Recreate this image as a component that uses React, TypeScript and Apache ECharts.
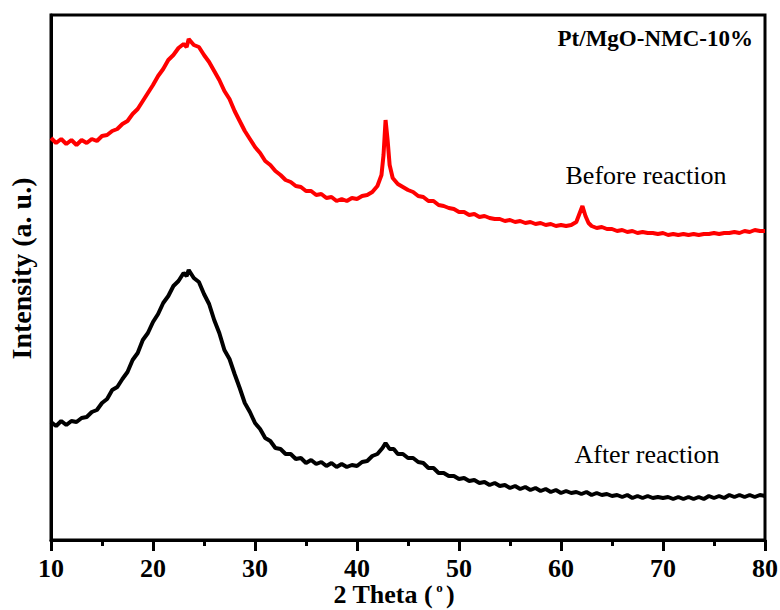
import { useEffect, useRef } from "react";
import * as echarts from "echarts";

// 2θ (degrees) vs intensity (a.u.)
const beforeReaction: [number, number][] = [
  [10, 402], [10.5, 397], [11, 401], [11.5, 396], [12, 400], [12.5, 395], [13, 400], [13.5, 397],
  [14, 401], [14.5, 399], [15, 404], [15.5, 405], [16, 409], [16.5, 411], [17, 416], [17.5, 419],
  [18, 426], [18.5, 431], [19, 439], [19.5, 447], [20, 455], [20.5, 464], [21, 471], [21.5, 480],
  [22, 485], [22.5, 492], [23, 496], [23.3, 493], [23.5, 501], [24, 495], [24.5, 493], [25, 485],
  [25.5, 478], [26, 469], [26.5, 460], [27, 449], [27.5, 441], [28, 429], [28.5, 419], [29, 409],
  [29.5, 401], [30, 393], [30.5, 387], [31, 379], [31.5, 375], [32, 369], [32.5, 365], [33, 360],
  [33.5, 358], [34, 354], [34.5, 353], [35, 349], [35.5, 349], [36, 345], [36.5, 346], [37, 342],
  [37.5, 343], [38, 339], [38.5, 341], [39, 339], [39.5, 342], [40, 341], [40.5, 344], [41, 345],
  [41.5, 348], [42, 354], [42.4, 365], [42.6, 385], [42.8, 420], [43, 400], [43.2, 375], [43.5, 362],
  [44, 356], [44.5, 353], [45, 350], [45.5, 348], [46, 344], [46.5, 343], [47, 339], [47.5, 339],
  [48, 335], [48.5, 334], [49, 332], [49.5, 331], [50, 328], [50.5, 328], [51, 325], [51.5, 326],
  [52, 323], [52.5, 324], [53, 322], [53.5, 321], [54, 321], [54.5, 319], [55, 320], [55.5, 318],
  [56, 319], [56.5, 317], [57, 318], [57.5, 316], [58, 317], [58.5, 315], [59, 316], [59.5, 314],
  [60, 315], [60.5, 314], [61, 315], [61.5, 318], [61.8, 326], [62.1, 334], [62.4, 324], [62.7, 317],
  [63, 314], [63.5, 312], [64, 313], [64.5, 311], [65, 311], [65.5, 309], [66, 310], [66.5, 308],
  [67, 309], [67.5, 307], [68, 308], [68.5, 307], [69, 307], [69.5, 306], [70, 307], [70.5, 305],
  [71, 306], [71.5, 305], [72, 306], [72.5, 305], [73, 306], [73.5, 305], [74, 306], [74.5, 306],
  [75, 307], [75.5, 306], [76, 307], [76.5, 307], [77, 308], [77.5, 307], [78, 309], [78.5, 308],
  [79, 310], [79.5, 309], [80, 309],
];

const afterReaction: [number, number][] = [
  [10, 118], [10.5, 114], [11, 119], [11.5, 115], [12, 119], [12.5, 118], [13, 122], [13.5, 123],
  [14, 128], [14.5, 130], [15, 137], [15.5, 141], [16, 150], [16.5, 153], [17, 161], [17.5, 168],
  [18, 180], [18.5, 187], [19, 200], [19.5, 207], [20, 218], [20.5, 226], [21, 237], [21.5, 244],
  [22, 254], [22.5, 259], [23, 267], [23.3, 264], [23.5, 270], [24, 262], [24.5, 258], [25, 246],
  [25.5, 236], [26, 220], [26.5, 207], [27, 190], [27.5, 181], [28, 166], [28.5, 152], [29, 137],
  [29.5, 128], [30, 117], [30.5, 111], [31, 102], [31.5, 99], [32, 92], [32.5, 91], [33, 86],
  [33.5, 86], [34, 81], [34.5, 82], [35, 77], [35.5, 80], [36, 76], [36.5, 78], [37, 74],
  [37.5, 77], [38, 73], [38.5, 76], [39, 73], [39.5, 75], [40, 74], [40.5, 78], [41, 79],
  [41.5, 84], [42, 86], [42.5, 92], [42.8, 97], [43.2, 91], [43.6, 91], [44, 86], [44.5, 86],
  [45, 82], [45.5, 82], [46, 78], [46.5, 77], [47, 72], [47.5, 72], [48, 67], [48.5, 67],
  [49, 64], [49.5, 64], [50, 61], [50.5, 62], [51, 59], [51.5, 60], [52, 57], [52.5, 58],
  [53, 55], [53.5, 57], [54, 54], [54.5, 55], [55, 52], [55.5, 54], [56, 51], [56.5, 53],
  [57, 50], [57.5, 52], [58, 49], [58.5, 51], [59, 48], [59.5, 50], [60, 47], [60.5, 49],
  [61, 47], [61.5, 48], [62, 46], [62.5, 48], [63, 45], [63.5, 47], [64, 45], [64.5, 46],
  [65, 44], [65.5, 45], [66, 43], [66.5, 45], [67, 42], [67.5, 44], [68, 42], [68.5, 44],
  [69, 42], [69.5, 43], [70, 42], [70.5, 43], [71, 41], [71.5, 43], [72, 41], [72.5, 43],
  [73, 41], [73.5, 43], [74, 41], [74.5, 44], [75, 42], [75.5, 44], [76, 42], [76.5, 45],
  [77, 43], [77.5, 45], [78, 43], [78.5, 45], [79, 43], [79.5, 45], [80, 44],
];

const xRange = [10, 80];
const xStep = 10;
const yRange = [0, 525];

const sampleLabel = "Pt/MgO-NMC-10%";
const beforeLabel = "Before reaction";
const afterLabel = "After reaction";

const SERIF = "'Liberation Serif', 'Times New Roman', serif";

export default function App() {
  const ref = useRef<HTMLDivElement>(null);

  useEffect(() => {
    const chart = echarts.init(ref.current!, null, { renderer: "svg" });
    chart.setOption({
      animation: false,
      backgroundColor: "#fff",
      grid: {
        left: 51,
        right: 15,
        top: 15,
        bottom: 70,
        containLabel: false,
        outerBoundsMode: "none",
        show: true,
        borderColor: "#000",
        borderWidth: 3,
        backgroundColor: "transparent",
      },
      xAxis: {
        type: "value",
        min: xRange[0],
        max: xRange[1],
        interval: xStep,
        name: "{t|2 Theta (} {s|o} {t|)}",
        nameLocation: "middle",
        nameGap: 41,
        nameMoveOverlap: false,
        nameTextStyle: {
          padding: [0, 28, 0, 0],
          rich: {
            t: { fontFamily: SERIF, fontWeight: "bold", fontSize: 26, color: "#000" },
            s: { fontFamily: SERIF, fontWeight: "bold", fontSize: 13, color: "#000", padding: [0, 0, 14, 0] },
          },
        },
        axisLine: { show: true, onZero: false, lineStyle: { color: "#000", width: 3 } },
        axisTick: { show: true, inside: false, length: 11, lineStyle: { color: "#000", width: 3 } },
        minorTick: { show: true, splitNumber: 2, length: 6, lineStyle: { color: "#000", width: 3 } },
        axisLabel: {
          margin: 15,
          fontFamily: SERIF,
          fontWeight: "bold",
          fontSize: 26,
          color: "#000",
        },
        splitLine: { show: false },
        minorSplitLine: { show: false },
      },
      yAxis: {
        type: "value",
        min: yRange[0],
        max: yRange[1],
        name: "Intensity (a. u.)",
        nameLocation: "middle",
        nameRotate: 90,
        nameGap: 16,
        nameMoveOverlap: false,
        nameTextStyle: {
          fontFamily: SERIF,
          fontWeight: "bold",
          fontSize: 28,
          color: "#000",
          padding: [0, 0, 0, 18],
        },
        axisLine: { show: true, lineStyle: { color: "#000", width: 3 } },
        axisTick: { show: false },
        axisLabel: { show: false },
        splitLine: { show: false },
      },
      series: [
        {
          name: beforeLabel,
          type: "line",
          data: beforeReaction,
          showSymbol: false,
          symbol: "none",
          lineStyle: { color: "#ff0000", width: 4 },
          z: 3,
        },
        {
          name: afterLabel,
          type: "line",
          data: afterReaction,
          showSymbol: false,
          symbol: "none",
          lineStyle: { color: "#000000", width: 4 },
          z: 3,
        },
      ],
      graphic: [
        {
          type: "text",
          x: 753,
          y: 38,
          style: {
            text: sampleLabel,
            fill: "#000",
            fontFamily: SERIF,
            fontWeight: "bold",
            fontSize: 23,
            textAlign: "right",
            textVerticalAlign: "middle",
          },
        },
        {
          type: "text",
          x: 646,
          y: 175,
          style: {
            text: beforeLabel,
            fill: "#000",
            fontFamily: SERIF,
            fontSize: 26,
            textAlign: "center",
            textVerticalAlign: "middle",
          },
        },
        {
          type: "text",
          x: 647,
          y: 454,
          style: {
            text: afterLabel,
            fill: "#000",
            fontFamily: SERIF,
            fontSize: 26,
            textAlign: "center",
            textVerticalAlign: "middle",
          },
        },
      ],
    });
    return () => chart.dispose();
  }, []);

  return (
    <div
      ref={ref}
      style={{ position: "absolute", left: 0, top: 0, width: 780, height: 610, background: "#fff" }}
    />
  );
}
